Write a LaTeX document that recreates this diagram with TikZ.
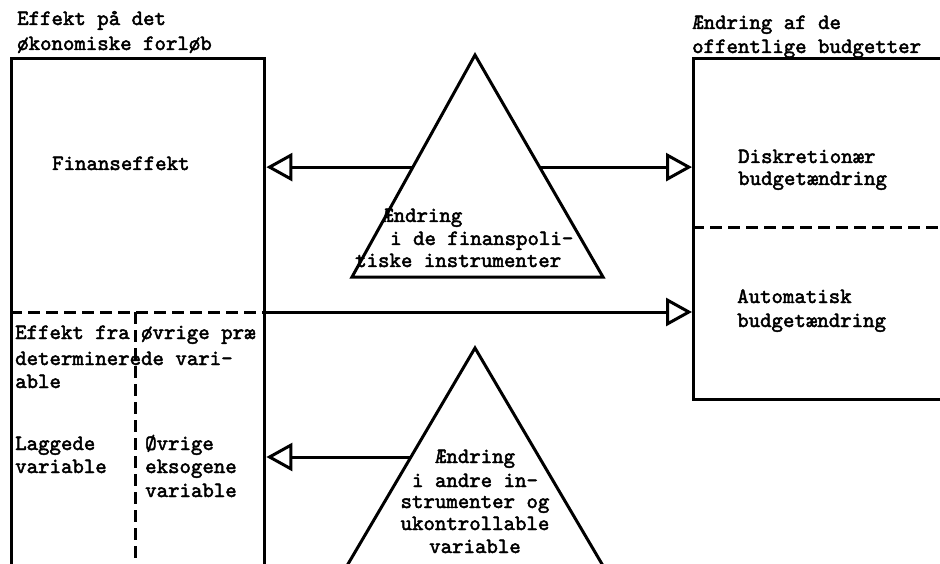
\documentclass[tikz,border=0pt]{standalone}
\usepackage{fontspec}
\newfontfamily\typewriter{lmmono10-regular.otf}[FakeBold=2.2]
\usetikzlibrary{arrows.meta,calc}

\begin{document}
\begin{tikzpicture}[x=1pt,y=-1pt,
  txt/.style={inner sep=0pt, anchor=base west, font=\fontsize{21.8}{24}\selectfont\typewriter},
  ctxt/.style={txt, anchor=base},
  boxline/.style={draw, line width=3.4pt, inner sep=0pt},
  tri/.style={line width=3pt, line join=miter},
  divider/.style={line width=3pt, dash pattern=on 12pt off 6pt},
  flow/.style={line width=3pt, -{Triangle[open, length=26pt, width=28pt, line width=3pt]}}
]
\useasboundingbox (0,0) rectangle (940,564);
\clip (0,0) rectangle (940,564);

% the two frames
\node[boxline, minimum width=253pt, minimum height=560pt, anchor=north west] (econ) at (10,57) {};
\node[boxline, minimum width=300pt, minimum height=341pt, anchor=north west] (budget) at (692,57) {};

% dashed partitions
\coordinate (lsplit) at (10,312);
\coordinate (rsplit) at (econ.east |- lsplit);
\draw[divider] (lsplit) -- (rsplit);
\coordinate (vtop) at (135,312);
\coordinate (vbot) at (135,600);
\draw[divider] (vtop) -- (vbot);
\coordinate (bsplit) at (budget.west |- 0,228);
\coordinate (bsplitend) at (960,228);
\draw[divider] (bsplit) -- (bsplitend);

% upper triangle: fiscal instruments
\coordinate (ta) at (475,55);
\coordinate (tl) at (352,277);
\coordinate (tr) at (603,277);
\draw[tri] (ta) -- (tl) -- (tr) -- cycle;
\coordinate (tlm) at ($(ta)!0.505!(tl)$);
\coordinate (trm) at ($(ta)!0.505!(tr)$);
\draw[flow] (tlm) -- (tlm -| econ.east);
\draw[flow] (trm) -- (trm -| budget.west);

% automatic stabiliser arrow
\draw[flow] (rsplit) -- (rsplit -| budget.west);

% lower triangle: other instruments
\coordinate (la) at (475,348);
\coordinate (ll) at (344.5,570);
\coordinate (lr) at (605.5,570);
\draw[tri] (ll) -- (la) -- (lr);
\coordinate (llm) at ($(la)!0.491!(ll)$);
\draw[flow] (llm) -- (llm -| econ.east);

% headings
\node[txt] (h1a) at (17,25) {Effekt på det};
\node[txt] (h1b) at (17,50) {økonomiske forløb};
\node[txt] (h2a) at (692,29) {Ændring af de};
\node[txt] (h2b) at (692,53) {offentlige budgetter};

% left frame
\node[txt] (fin) at (52,170) {Finanseffekt};
\node[txt] (pa) at (15,339) {Effekt fra øvrige præ};
\node[txt] (pb) at (15,365) {determinerede vari-};
\node[txt] (pc) at (15,388) {able};
\node[txt] (lga) at (15,450) {Laggede};
\node[txt] (lgb) at (15,473) {variable};
\node[txt] (exa) at (145,450) {Øvrige};
\node[txt] (exb) at (145,473) {eksogene};
\node[txt] (exc) at (145,497) {variable};

% right frame
\node[txt] (da) at (738,163) {Diskretionær};
\node[txt] (db) at (738,185) {budgetændring};
\node[txt] (aa) at (737,303) {Automatisk};
\node[txt] (ab) at (737,327) {budgetændring};

% triangle labels
\node[txt] (ua) at (382,222) {Ændring};
\node[txt] (ub) at (390,245) {i de finanspoli-};
\node[txt] (uc) at (355,267) {tiske instrumenter};
\node[ctxt] (wa) at (475,463) {Ændring};
\node[ctxt] (wb) at (475,487) {i andre in-};
\node[ctxt] (wc) at (475,508) {strumenter og};
\node[ctxt] (wd) at (475,530) {ukontrollable};
\node[ctxt] (we) at (475,553) {variable};
\end{tikzpicture}
\end{document}
